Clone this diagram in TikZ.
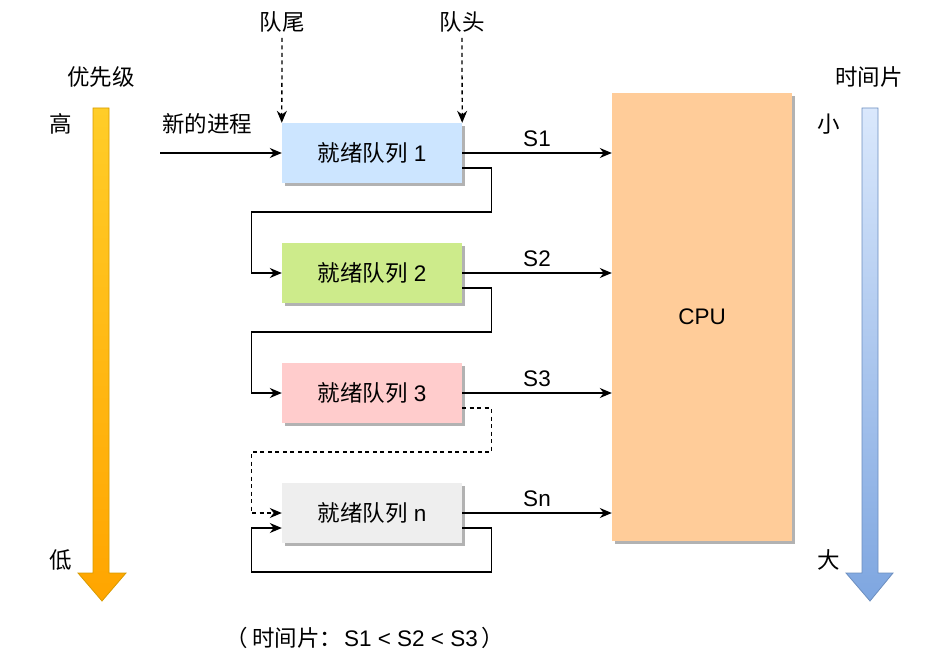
\documentclass[tikz,border=0pt]{standalone}
\usepackage{fontspec}
\setmainfont{Liberation Sans}
\newfontfamily\cjk{Noto Sans CJK SC}
\usetikzlibrary{arrows.meta,shadows}
\definecolor{qblue}{HTML}{CCE5FF}
\definecolor{qgreen}{HTML}{CDEB8B}
\definecolor{qpink}{HTML}{FFCCCC}
\definecolor{qgray}{HTML}{EEEEEE}
\definecolor{cpuor}{HTML}{FFCC99}
\definecolor{ytop}{HTML}{FFCD28}
\definecolor{ybot}{HTML}{FFA500}
\definecolor{ystroke}{HTML}{D79B00}
\definecolor{btop}{HTML}{DAE8FC}
\definecolor{bbot}{HTML}{7EA6E0}
\definecolor{bstroke}{HTML}{6C8EBF}
\begin{document}
\begin{tikzpicture}[x=1pt,y=-1pt,
  font=\fontsize{22.5}{26}\selectfont,
  qbox/.style={minimum width=180pt,minimum height=60pt,inner sep=0pt,
    drop shadow={shadow xshift=3pt,shadow yshift=-3pt,opacity=0.3,fill=black}},
  arr/.style={-{Stealth[length=12pt,width=10pt]},line width=1.3pt},
  dsh/.style={dash pattern=on 4pt off 3.5pt},
  lbl/.style={inner sep=0pt}]
\useasboundingbox (0,0) rectangle (928,663);

% big arrows
\path[draw=ystroke,line width=0.8pt,top color=ytop,bottom color=ybot]
  (93,108) -- (109,108) -- (109,573) -- (126,573) -- (102,601) -- (78,573) -- (93,573) -- cycle;
\path[draw=bstroke,line width=0.8pt,top color=btop,bottom color=bbot]
  (862,108) -- (878,108) -- (878,573) -- (893,573) -- (870,601) -- (846,573) -- (862,573) -- cycle;

\node[lbl] (prio) at (101,77) {\cjk 优先级};
\node[lbl] (hi) at (61,124) {\cjk 高};
\node[lbl] (lo) at (61,560) {\cjk 低};
\node[lbl] (slice) at (869,77) {\cjk 时间片};
\node[lbl] (small) at (829,124) {\cjk 小};
\node[lbl] (big) at (829,560) {\cjk 大};

% queues
\node[qbox,fill=qblue] (b1) at (372,153) {{\cjk 就绪队列} 1};
\node[qbox,fill=qgreen] (b2) at (372,273) {{\cjk 就绪队列} 2};
\node[qbox,fill=qpink] (b3) at (372,393) {{\cjk 就绪队列} 3};
\node[qbox,fill=qgray] (bn) at (372,513) {{\cjk 就绪队列} n};

\node[minimum width=180pt,minimum height=448pt,inner sep=0pt,fill=cpuor,
  drop shadow={shadow xshift=3pt,shadow yshift=-3pt,opacity=0.3,fill=black}] (cpu) at (702,317) {CPU};

% labels top
\node[lbl] (tail) at (282,22) {\cjk 队尾};
\node[lbl] (head) at (462,22) {\cjk 队头};
\coordinate (tailc) at (282,38);
\coordinate (headc) at (462,38);
\draw[arr,dsh] (tailc) -- (b1.north west);
\draw[arr,dsh] (headc) -- (b1.north east);

\node[lbl] (newp) at (207,124) {\cjk 新的进程};
\coordinate (npc) at (160,153);
\draw[arr] (npc) -- (b1.west);

% to CPU
\draw[arr] (b1.east) -- (b1.east -| cpu.west) node[midway,above=6pt,lbl] {S1};
\draw[arr] (b2.east) -- (b2.east -| cpu.west) node[midway,above=6pt,lbl] {S2};
\draw[arr] (b3.east) -- (b3.east -| cpu.west) node[midway,above=6pt,lbl] {S3};
\draw[arr] (bn.east) -- (bn.east -| cpu.west) node[midway,above=6pt,lbl] {Sn};

% feedback
\draw[arr] ([yshift=-15pt]b1.east) -- ++(29,0) -- ++(0,44) -- ++(-240,0) |- (b2.west);
\draw[arr] ([yshift=-15pt]b2.east) -- ++(29,0) -- ++(0,44) -- ++(-240,0) |- (b3.west);
\draw[arr,dsh] ([yshift=-15pt]b3.east) -- ++(29,0) -- ++(0,44) -- ++(-240,0) |- (bn.west);
\draw[arr] ([yshift=-15pt]bn.east) -- ++(29,0) -- ++(0,44) -- ++(-240,0) |- ([yshift=-15pt]bn.west);

\node[lbl] (note) at (365,638) {{\cjk （}\hspace{4pt}{\cjk 时间片：}\hspace{2pt}S1 < S2 < S3\hspace{4pt}{\cjk ）}};
\end{tikzpicture}
\end{document}
